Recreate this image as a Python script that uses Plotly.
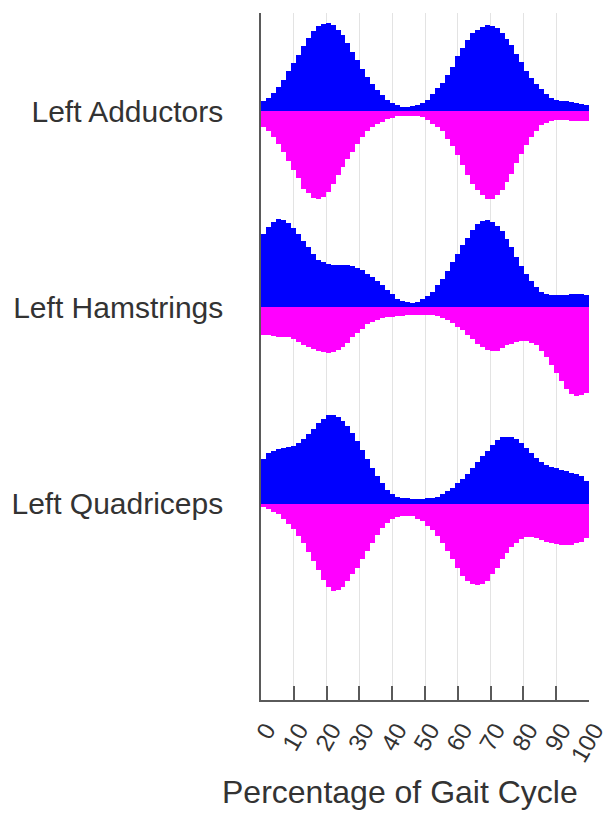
import numpy as np
import plotly.graph_objects as go

# Normalised muscle activity (% of peak) across the gait cycle, 66 bins per series
muscles = ["Left Adductors", "Left Hamstrings", "Left Quadriceps"]
baselines = [3, 2, 1]

adductors_up = [11, 15, 21, 27, 35, 45, 54, 64, 74, 83,
                91, 96, 99, 100, 97, 92, 86, 77, 67, 58,
                48, 39, 31, 24, 18, 13, 9, 7, 5, 5,
                6, 7, 9, 13, 19, 26, 32, 41, 50, 62,
                71, 80, 88, 92, 95, 97, 96, 94, 89, 82,
                75, 65, 56, 46, 38, 31, 25, 19, 15, 13,
                12, 11, 10, 9, 8, 7]
adductors_down = [18, 23, 29, 37, 46, 57, 67, 76, 88, 93,
                  98, 99, 97, 91, 82, 72, 63, 54, 46, 37,
                  29, 23, 18, 15, 12, 9, 8, 6, 6, 5,
                  5, 6, 7, 10, 14, 18, 23, 31, 40, 50,
                  61, 72, 82, 89, 95, 99, 99, 95, 89, 80,
                  71, 59, 48, 38, 29, 22, 16, 13, 11, 10,
                  10, 10, 11, 11, 11, 11]

hamstrings_up = [83, 91, 97, 100, 99, 96, 90, 83, 75, 68,
                 60, 54, 51, 49, 48, 48, 48, 48, 47, 45,
                 42, 38, 35, 30, 25, 20, 15, 10, 7, 6,
                 5, 6, 9, 13, 18, 25, 32, 41, 51, 60,
                 71, 79, 88, 94, 98, 99, 97, 92, 86, 77,
                 68, 57, 47, 38, 30, 23, 18, 15, 14, 14,
                 14, 14, 15, 15, 15, 14]
hamstrings_down = [31, 31, 32, 33, 34, 34, 36, 39, 42, 45,
                   47, 49, 51, 52, 51, 48, 45, 40, 34, 29,
                   24, 19, 16, 14, 12, 11, 11, 10, 10, 9,
                   9, 9, 9, 9, 9, 10, 12, 14, 18, 22,
                   26, 31, 36, 41, 45, 48, 49, 49, 46, 43,
                   41, 39, 38, 38, 40, 43, 49, 56, 65, 74,
                   83, 92, 98, 100, 99, 97]

quadriceps_up = [51, 57, 60, 62, 63, 64, 65, 69, 73, 79,
                 85, 91, 96, 100, 100, 98, 94, 88, 80, 71,
                 61, 51, 40, 31, 23, 16, 11, 8, 6, 6,
                 5, 5, 5, 6, 7, 8, 11, 14, 18, 23,
                 28, 34, 40, 47, 54, 60, 67, 72, 75, 76,
                 76, 73, 69, 63, 57, 52, 47, 44, 42, 40,
                 38, 37, 35, 34, 31, 26]
quadriceps_down = [4, 6, 9, 12, 17, 23, 29, 36, 45, 55,
                   65, 75, 86, 94, 99, 98, 94, 88, 80, 73,
                   63, 54, 44, 35, 28, 22, 17, 15, 14, 14,
                   14, 17, 20, 25, 30, 36, 44, 53, 63, 73,
                   82, 88, 91, 92, 91, 87, 80, 73, 63, 56,
                   49, 44, 40, 38, 38, 39, 41, 43, 45, 46,
                   47, 47, 47, 45, 43, 39]

up_series = [adductors_up, hamstrings_up, quadriceps_up]
down_series = [adductors_down, hamstrings_down, quadriceps_down]

x_ticks = list(range(0, 101, 10))

n_bins = len(adductors_up)
bin_width = 100 / n_bins
bin_centers = (np.arange(n_bins) + 0.5) * bin_width
scale = 0.45 / 100  # % of peak -> row height in axis units

BLUE = "#0000FF"
MAGENTA = "#FF00FF"
FONT = "Liberation Sans, Arial, sans-serif"
TEXT = "#333333"
AXIS = "#5a5a5a"

fig = go.Figure()
for base, up, down in zip(baselines, up_series, down_series):
    fig.add_trace(go.Bar(
        x=bin_centers, y=np.array(up) * scale, base=base, width=bin_width,
        marker=dict(color=BLUE, line=dict(width=0)), showlegend=False,
    ))
    fig.add_trace(go.Bar(
        x=bin_centers, y=-np.array(down) * scale, base=base, width=bin_width,
        marker=dict(color=MAGENTA, line=dict(width=0)), showlegend=False,
    ))

fig.update_layout(
    width=610, height=816,
    margin=dict(l=261, r=21, t=13, b=116),
    paper_bgcolor="white", plot_bgcolor="white",
    barmode="overlay", bargap=0,
    font=dict(family=FONT, color=TEXT),
    xaxis=dict(
        range=[0, 100], tickvals=x_ticks, ticktext=[str(v) for v in x_ticks],
        tickangle=-60, tickfont=dict(size=24, color=TEXT),
        ticklabelshift=5, ticklabelstandoff=5, ticklabeloverflow="allow",
        automargin=False,
        showgrid=True, gridcolor="#e3e3e3", gridwidth=1,
        showline=True, linecolor=AXIS, linewidth=1.5,
        ticks="inside", ticklen=14, tickcolor=AXIS, tickwidth=1.5,
        zeroline=False, fixedrange=True,
    ),
    yaxis=dict(
        range=[0, 3.5], tickvals=baselines, ticktext=muscles,
        tickfont=dict(size=30, color=TEXT), ticks="", ticklabelstandoff=30,
        automargin=False,
        showgrid=False, zeroline=False,
        showline=True, linecolor=AXIS, linewidth=1.5, fixedrange=True,
    ),
    annotations=[dict(
        text="Percentage of Gait Cycle", xref="x", yref="paper",
        x=42.3, y=-0.134, xanchor="center", yanchor="middle",
        showarrow=False, font=dict(size=32, color=TEXT, family=FONT),
    )],
)

fig.write_html("out.html")
